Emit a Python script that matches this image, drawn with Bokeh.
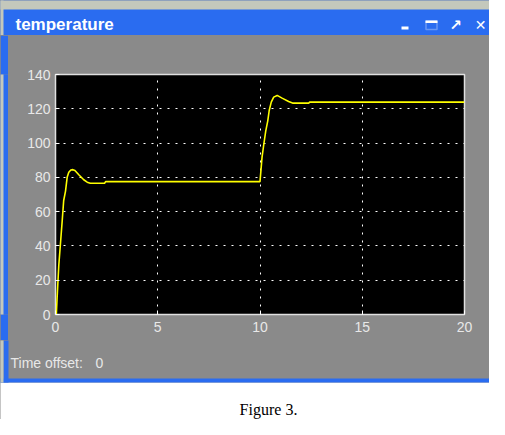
from bokeh.plotting import figure
from bokeh.models import BoxAnnotation, Label, Range1d, FixedTicker
from bokeh.layouts import column, row
from bokeh.embed import file_html
from bokeh.resources import INLINE

# data
time_s = [0, 0.04, 0.08, 0.16, 0.24, 0.33, 0.4, 0.49, 0.57, 0.65, 0.75, 0.85, 0.95,
          1.14, 1.38, 1.55, 1.7, 2.4, 2.45, 9.99, 10.0, 10.06, 10.1, 10.19, 10.28,
          10.38, 10.45, 10.55, 10.67, 10.84, 11.08, 11.4, 11.62, 12.39, 12.42, 20]
temperature = [0, 0, 10, 28.6, 41, 55, 66.5, 72, 80, 83, 84.3, 84.5, 84,
               81.5, 78.6, 77.2, 76.6, 76.6, 77.5, 77.5, 77.5, 86, 91.8, 99.6, 107,
               113, 119, 123.9, 126.8, 127.8, 126.2, 124.3, 123.3, 123.3, 123.9, 123.9]
x_ticks = [0, 5, 10, 15, 20]
y_ticks = [0, 20, 40, 60, 80, 100, 120, 140]
window_title = "temperature"
offset_label = "Time offset:"
offset_value = "0"
caption = "Figure 3."

W = 489
GRAY = "#8a8a8a"
BLUE = "#2a6cf0"
OUTER = "#c4c8bc"
LABEL = "#e8e8e8"
TOP_H, MID_H, BOT_H = 35, 305, 79


def chrome_fig(width, height, y0, bg):
    f = figure(width=width, height=height, output_backend="svg", toolbar_location=None,
               x_range=Range1d(0, width), y_range=Range1d(y0 + height, y0),
               x_axis_type=None, y_axis_type=None, min_border=0)
    f.grid.visible = False
    f.outline_line_color = None
    f.background_fill_color = bg
    f.border_fill_color = bg
    return f


def box(f, l, r, t, b, fill=None, line=None, lw=1):
    f.add_layout(BoxAnnotation(left=l, right=r, top=t, bottom=b,
                               fill_color=fill, fill_alpha=1 if fill else 0,
                               line_color=line, line_width=lw, level="underlay"))


def lab(f, x, y, text, size, color, font="Liberation Sans", bold=False, align="left"):
    f.add_layout(Label(x=x, y=y, text=text, text_font=font, text_font_size=size,
                       text_color=color, text_font_style="bold" if bold else "normal",
                       text_align=align, text_baseline="middle"))


# --- title bar
top = chrome_fig(W, TOP_H, 0, BLUE)
box(top, -10, W + 10, -10, 9, fill=OUTER)
box(top, -10, 3, -10, TOP_H + 10, fill=OUTER)
lab(top, 15, 24, window_title, "17px", "white", bold=True)
box(top, 401, 408, 26, 29, fill="white")
box(top, 425.5, 436.5, 20.5, 29, line="white", lw=1.5)
box(top, 425, 437, 20, 22.5, fill="white")
lab(top, 455, 24, "\u2197", "15px", "white", font="DejaVu Sans", bold=True, align="center")
lab(top, 480, 24, "\u2715", "14px", "white", font="DejaVu Sans", bold=True, align="center")

# --- left blue frame strip
strip = chrome_fig(8, MID_H, TOP_H, BLUE)
box(strip, -10, 3, TOP_H - 10, TOP_H + MID_H + 10, fill=OUTER)

# --- scope plot
p = figure(width=W - 8, height=MID_H, output_backend="svg", toolbar_location=None,
           x_range=Range1d(0, 20), y_range=Range1d(0, 140),
           min_border_left=47, min_border_right=25, min_border_top=39, min_border_bottom=26)
p.background_fill_color = "black"
p.border_fill_color = GRAY
p.outline_line_color = "#e0e0e0"
p.outline_line_width = 1.5

for ax in p.axis:
    is_x = ax in p.xaxis
    ax.ticker = FixedTicker(ticks=x_ticks if is_x else y_ticks)
    ax.axis_line_color = None
    ax.major_tick_in = 4
    ax.major_tick_out = 0
    ax.major_tick_line_color = "white"
    ax.minor_tick_line_color = None
    ax.major_label_text_color = LABEL
    ax.major_label_text_font = "Liberation Sans"
    ax.major_label_text_font_size = "14px"
p.xaxis.major_label_standoff = 7
p.yaxis.major_label_standoff = 5

for g in (p.xgrid[0], p.ygrid[0]):
    g.grid_line_color = "white"
    g.grid_line_dash = "2 6"
    g.grid_line_width = 1
p.xgrid.ticker = FixedTicker(ticks=x_ticks[1:-1])
p.ygrid.ticker = FixedTicker(ticks=y_ticks[1:-1])

p.line(time_s, temperature, line_color="#ffff00", line_width=1.6)

# --- bottom of window and caption
y0 = TOP_H + MID_H
bot = chrome_fig(W, BOT_H, y0, GRAY)
box(bot, -10, W + 10, 382, y0 + BOT_H + 10, fill="white")
box(bot, -10, W + 10, 378, 382, fill=BLUE)
box(bot, 3, 8, y0 - 10, 382, fill=BLUE)
box(bot, -10, 3, y0 - 10, 382, fill=OUTER)
lab(bot, 10, 362, offset_label, "14px", LABEL)
lab(bot, 95, 362, offset_value, "14px", LABEL)
lab(bot, 268, 409, caption, "16px", "black", font="Liberation Serif", align="center")

mid = row(strip, p, spacing=0, styles={"background-color": GRAY})
layout = column(top, mid, bot, spacing=0, styles={"background-color": GRAY})
open("out.html", "w").write(file_html(layout, INLINE))
